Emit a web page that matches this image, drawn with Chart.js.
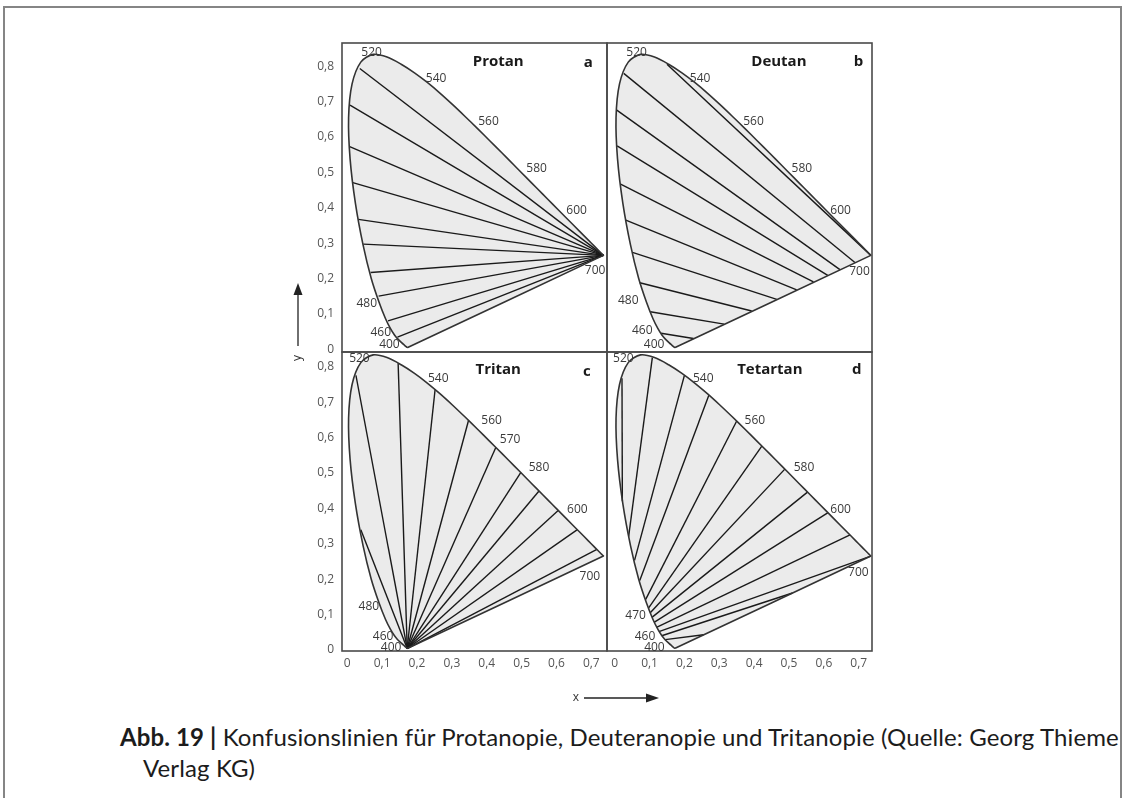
<!DOCTYPE html>
<html lang="de">
<head>
<meta charset="UTF-8">
<title>Abb. 19 – Konfusionslinien</title>
<script src="https://cdn.jsdelivr.net/npm/chart.js"></script>
<style>
    html, body { margin: 0; padding: 0; background: #fff; }
    body {
        position: relative;
        width: 1123px;
        height: 798px;
        overflow: hidden;
        font-family: "Open Sans", sans-serif;
    }
    .rahmen {
        position: absolute;
        left: 3px; top: 6px;
        width: 1115px; height: 820px;
        border: 2px solid #858585;
        border-bottom: none;
    }
    canvas { position: absolute; }
    #pa { left: 302px; top: 3px; }
    #pb { left: 567px; top: 3px; }
    #pc { left: 302px; top: 312px; }
    #pd { left: 567px; top: 312px; }
    .pfeil { position: absolute; overflow: visible; }
    .legende {
        position: absolute;
        left: 120px; top: 721px;
        font-family: Lato, sans-serif;
        font-size: 24px;
        letter-spacing: 0.12px;
        line-height: 31px;
        color: #1c1c1c;
        white-space: nowrap;
    }
    .legende .zweite { padding-left: 23px; }
</style>
</head>
<body>
<div class="rahmen"></div>

<canvas id="pa" width="345" height="389"></canvas>
<canvas id="pb" width="345" height="389"></canvas>
<canvas id="pc" width="345" height="379"></canvas>
<canvas id="pd" width="345" height="379"></canvas>

<svg class="pfeil" style="left:288px; top:278px" width="20" height="92">
    <line x1="10" y1="14" x2="10" y2="68" stroke="#222" stroke-width="1.3"/>
    <polygon points="5.5,17 10,5 14.5,17" fill="#222"/>
    <text x="10" y="80" transform="rotate(-90 10 80)" text-anchor="middle" dominant-baseline="middle"
          font-family="Open Sans" font-size="12" fill="#333">y</text>
</svg>
<svg class="pfeil" style="left:568px; top:688px" width="100" height="20">
    <text x="8" y="10" text-anchor="middle" dominant-baseline="middle"
          font-family="Open Sans" font-size="12" fill="#333">x</text>
    <line x1="16" y1="10" x2="80" y2="10" stroke="#222" stroke-width="1.3"/>
    <polygon points="78,5.5 91,10 78,14.5" fill="#222"/>
</svg>

<div class="legende"><b>Abb. 19 |</b> Konfusionslinien für Protanopie, Deuteranopie und Tritanopie (Quelle: Georg Thieme<br><span class="zweite">Verlag KG)</span></div>

<script>
// Spektralzug (Normfarbtafel), Wellenlängen in nm
const locusNm = [400, 410, 420, 430, 440, 450, 460, 465, 470, 475, 480, 485, 490, 495, 500, 505, 510, 515, 520, 525,
                 530, 535, 540, 545, 550, 555, 560, 565, 570, 575, 580, 585, 590, 595, 600, 610, 620, 630, 640, 650, 660, 680, 700];
const locusX = [0.1733, 0.1726, 0.1714, 0.1689, 0.1644, 0.1566, 0.1440, 0.1355, 0.1241, 0.1096, 0.0913, 0.0687, 0.0454, 0.0235, 0.0082, 0.0039, 0.0139, 0.0389, 0.0743, 0.1142,
                0.1547, 0.1929, 0.2296, 0.2658, 0.3016, 0.3373, 0.3731, 0.4087, 0.4441, 0.4788, 0.5125, 0.5448, 0.5752, 0.6029, 0.6270, 0.6658, 0.6915, 0.7079, 0.7190, 0.7260, 0.7300, 0.7334, 0.7347];
const locusY = [0.0048, 0.0048, 0.0051, 0.0069, 0.0109, 0.0177, 0.0297, 0.0399, 0.0578, 0.0868, 0.1327, 0.2007, 0.2950, 0.4127, 0.5384, 0.6548, 0.7502, 0.8120, 0.8338, 0.8262,
                0.8059, 0.7816, 0.7543, 0.7243, 0.6923, 0.6589, 0.6245, 0.5896, 0.5547, 0.5202, 0.4866, 0.4544, 0.4242, 0.3965, 0.3725, 0.3340, 0.3083, 0.2920, 0.2809, 0.2740, 0.2700, 0.2666, 0.2653];

// Achsen
const xTicks = [0, 0.1, 0.2, 0.3, 0.4, 0.5, 0.6, 0.7];
const xTickLabels = ['0', '0,1', '0,2', '0,3', '0,4', '0,5', '0,6', '0,7'];
const yTicks = [0, 0.1, 0.2, 0.3, 0.4, 0.5, 0.6, 0.7, 0.8];
const yTickLabels = ['0', '0,1', '0,2', '0,3', '0,4', '0,5', '0,6', '0,7', '0,8'];

// a: Protan – Linien laufen im Punkt bei 700 nm zusammen
const protanPunkt = [0.7347, 0.2653];
const protanStartX = [0.036, 0.008, 0.007, 0.016, 0.032, 0.046, 0.067, 0.090, 0.117, 0.144];
const protanStartY = [0.794, 0.690, 0.573, 0.471, 0.367, 0.297, 0.217, 0.150, 0.080, 0.034];

// b: Deutan
const deutanStartX = [0.150, 0.026, 0.006, 0.007, 0.017, 0.032, 0.051, 0.072, 0.102, 0.133];
const deutanStartY = [0.806, 0.780, 0.676, 0.575, 0.467, 0.365, 0.274, 0.188, 0.106, 0.045];
const deutanEndX = [0.7347, 0.689, 0.646, 0.611, 0.570, 0.522, 0.465, 0.393, 0.314, 0.226];
const deutanEndY = [0.2653, 0.245, 0.225, 0.209, 0.190, 0.168, 0.141, 0.108, 0.071, 0.030];

// c: Tritan – Linien laufen im Punkt bei 400 nm zusammen
const tritanPunkt = [0.172, 0.004];
const tritanEndX = [0.039, 0.025, 0.146, 0.252, 0.348, 0.426, 0.498, 0.550, 0.605, 0.660, 0.716];
const tritanEndY = [0.340, 0.776, 0.810, 0.736, 0.649, 0.572, 0.502, 0.449, 0.394, 0.340, 0.284];

// d: Tetartan
const tetartanStartX = [0.022, 0.040, 0.057, 0.072, 0.089, 0.097, 0.102, 0.107, 0.113, 0.120, 0.127, 0.135, 0.145];
const tetartanStartY = [0.420, 0.320, 0.253, 0.196, 0.143, 0.118, 0.105, 0.092, 0.078, 0.064, 0.052, 0.040, 0.029];
const tetartanEndX = [0.021, 0.108, 0.200, 0.270, 0.350, 0.422, 0.488, 0.553, 0.612, 0.675, 0.7347, 0.510, 0.255];
const tetartanEndY = [0.768, 0.826, 0.776, 0.720, 0.647, 0.576, 0.511, 0.446, 0.388, 0.325, 0.2653, 0.161, 0.043];

// Beschriftungen (Wellenlängen) in Koordinaten der Tafel
const protanLabels = ['520', '540', '560', '580', '600', '700', '480', '460', '400'];
const protanLabelX = [0.070, 0.255, 0.405, 0.543, 0.658, 0.711, 0.056, 0.096, 0.121];
const protanLabelY = [0.838, 0.766, 0.645, 0.511, 0.393, 0.222, 0.130, 0.047, 0.012];

const deutanLabels = ['520', '540', '560', '580', '600', '700', '480', '460', '400'];
const deutanLabelX = [0.063, 0.245, 0.398, 0.537, 0.648, 0.702, 0.039, 0.079, 0.113];
const deutanLabelY = [0.838, 0.766, 0.645, 0.511, 0.393, 0.219, 0.137, 0.054, 0.012];

const tritanLabels = ['520', '540', '560', '570', '580', '600', '700', '480', '460', '400'];
const tritanLabelX = [0.035, 0.261, 0.414, 0.467, 0.550, 0.660, 0.696, 0.062, 0.103, 0.126];
const tritanLabelY = [0.823, 0.768, 0.647, 0.594, 0.514, 0.396, 0.208, 0.123, 0.039, 0.0055];

const tetartanLabels = ['520', '540', '560', '580', '600', '700', '470', '460', '400'];
const tetartanLabelX = [0.025, 0.254, 0.402, 0.543, 0.648, 0.699, 0.060, 0.087, 0.114];
const tetartanLabelY = [0.823, 0.768, 0.647, 0.514, 0.398, 0.218, 0.097, 0.039, 0.0055];

const tickFont = { family: 'Open Sans', size: 12 };
const tickColor = '#555555';

function locusData() {
    const pts = locusX.map((x, i) => ({ x: x, y: locusY[i] }));
    pts.push({ x: locusX[0], y: locusY[0] }); // Purpurlinie zurück nach 400 nm
    return pts;
}

function linien(x1, y1, x2, y2) {
    return x1.map((x, i) => [{ x: x, y: y1[i] }, { x: x2[i], y: y2[i] }]);
}

function zumPunkt(xs, ys, p) {
    return xs.map((x, i) => [{ x: x, y: ys[i] }, { x: p[0], y: p[1] }]);
}

function beschriftung(lab) {
    return {
        id: 'beschriftung',
        afterDatasetsDraw(chart) {
            const { ctx, chartArea: a } = chart;
            const sx = chart.scales.x, sy = chart.scales.y;
            ctx.save();
            ctx.strokeStyle = '#4a4a4a';
            ctx.lineWidth = 1.6;
            ctx.strokeRect(a.left, a.top, a.right - a.left, a.bottom - a.top);

            ctx.textAlign = 'center';
            ctx.textBaseline = 'middle';
            ctx.fillStyle = '#3a3a3a';
            ctx.font = '12px "Open Sans"';
            lab.texte.forEach((t, i) => {
                ctx.fillText(t, sx.getPixelForValue(lab.x[i]), sy.getPixelForValue(lab.y[i]));
            });
            ctx.fillStyle = '#1a1a1a';
            ctx.font = 'bold 15px "Open Sans"';
            ctx.fillText(lab.titel, sx.getPixelForValue(lab.titelPos[0]), sy.getPixelForValue(lab.titelPos[1]));
            ctx.fillText(lab.buchstabe, sx.getPixelForValue(lab.buchstabePos[0]), sy.getPixelForValue(lab.buchstabePos[1]));
            ctx.restore();
        }
    };
}

function panel(id, p) {
    const datasets = [{
        data: locusData(),
        showLine: true,
        fill: 'shape',
        backgroundColor: '#ebebeb',
        borderColor: '#333333',
        borderWidth: 1.6,
        pointRadius: 0,
        tension: 0.3
    }];
    p.linien.forEach(l => datasets.push({
        data: l,
        showLine: true,
        fill: false,
        borderColor: '#1a1a1a',
        borderWidth: 1.4,
        pointRadius: 0,
        tension: 0
    }));

    new Chart(document.getElementById(id), {
        type: 'scatter',
        data: { datasets: datasets },
        options: {
            responsive: false,
            animation: false,
            events: [],
            layout: { padding: p.padding },
            plugins: {
                legend: { display: false },
                tooltip: { enabled: false },
                filler: { drawTime: 'beforeDatasetsDraw' }
            },
            scales: {
                x: {
                    type: 'linear',
                    min: p.xMin, max: p.xMin + 0.76,
                    display: p.zeigeX,
                    grid: { display: false, drawTicks: false },
                    border: { display: false },
                    ticks: {
                        font: tickFont, color: tickColor, padding: 5,
                        autoSkip: false, maxRotation: 0,
                        callback: (v, i) => xTickLabels[i]
                    },
                    afterBuildTicks: s => { s.ticks = xTicks.map(v => ({ value: v })); },
                    afterFit: s => { s.height = p.zeigeX ? 20 : 0; }
                },
                y: {
                    type: 'linear',
                    min: p.yMin, max: p.yMax,
                    display: p.zeigeY,
                    grid: { display: false, drawTicks: false },
                    border: { display: false },
                    ticks: {
                        font: tickFont, color: tickColor, padding: 8,
                        autoSkip: false,
                        callback: (v, i) => yTickLabels[i]
                    },
                    afterBuildTicks: s => { s.ticks = yTicks.map(v => ({ value: v })); },
                    afterFit: s => { s.width = p.zeigeY ? 40 : 0; }
                }
            }
        },
        plugins: [beschriftung(p.lab)]
    });
}

panel('pa', {
    xMin: -0.015, yMin: -0.008, yMax: 0.866, zeigeX: false, zeigeY: true,
    padding: { left: 0, top: 40, right: 40, bottom: 40 },
    linien: zumPunkt(protanStartX, protanStartY, protanPunkt),
    lab: { texte: protanLabels, x: protanLabelX, y: protanLabelY,
           titel: 'Protan', titelPos: [0.433, 0.813], buchstabe: 'a', buchstabePos: [0.691, 0.810] }
});
panel('pb', {
    xMin: -0.022, yMin: -0.008, yMax: 0.866, zeigeX: false, zeigeY: false,
    padding: { left: 40, top: 40, right: 40, bottom: 40 },
    linien: linien(deutanStartX, deutanStartY, deutanEndX, deutanEndY),
    lab: { texte: deutanLabels, x: deutanLabelX, y: deutanLabelY,
           titel: 'Deutan', titelPos: [0.471, 0.813], buchstabe: 'b', buchstabePos: [0.699, 0.813] }
});
panel('pc', {
    xMin: -0.015, yMin: -0.003, yMax: 0.842, zeigeX: true, zeigeY: true,
    padding: { left: 0, top: 40, right: 40, bottom: 20 },
    linien: zumPunkt(tritanEndX, tritanEndY, tritanPunkt),
    lab: { texte: tritanLabels, x: tritanLabelX, y: tritanLabelY,
           titel: 'Tritan', titelPos: [0.433, 0.791], buchstabe: 'c', buchstabePos: [0.687, 0.787] }
});
panel('pd', {
    xMin: -0.022, yMin: -0.003, yMax: 0.842, zeigeX: true, zeigeY: false,
    padding: { left: 40, top: 40, right: 40, bottom: 20 },
    linien: linien(tetartanStartX, tetartanStartY, tetartanEndX, tetartanEndY),
    lab: { texte: tetartanLabels, x: tetartanLabelX, y: tetartanLabelY,
           titel: 'Tetartan', titelPos: [0.445, 0.791], buchstabe: 'd', buchstabePos: [0.694, 0.791] }
});
</script>
</body>
</html>
